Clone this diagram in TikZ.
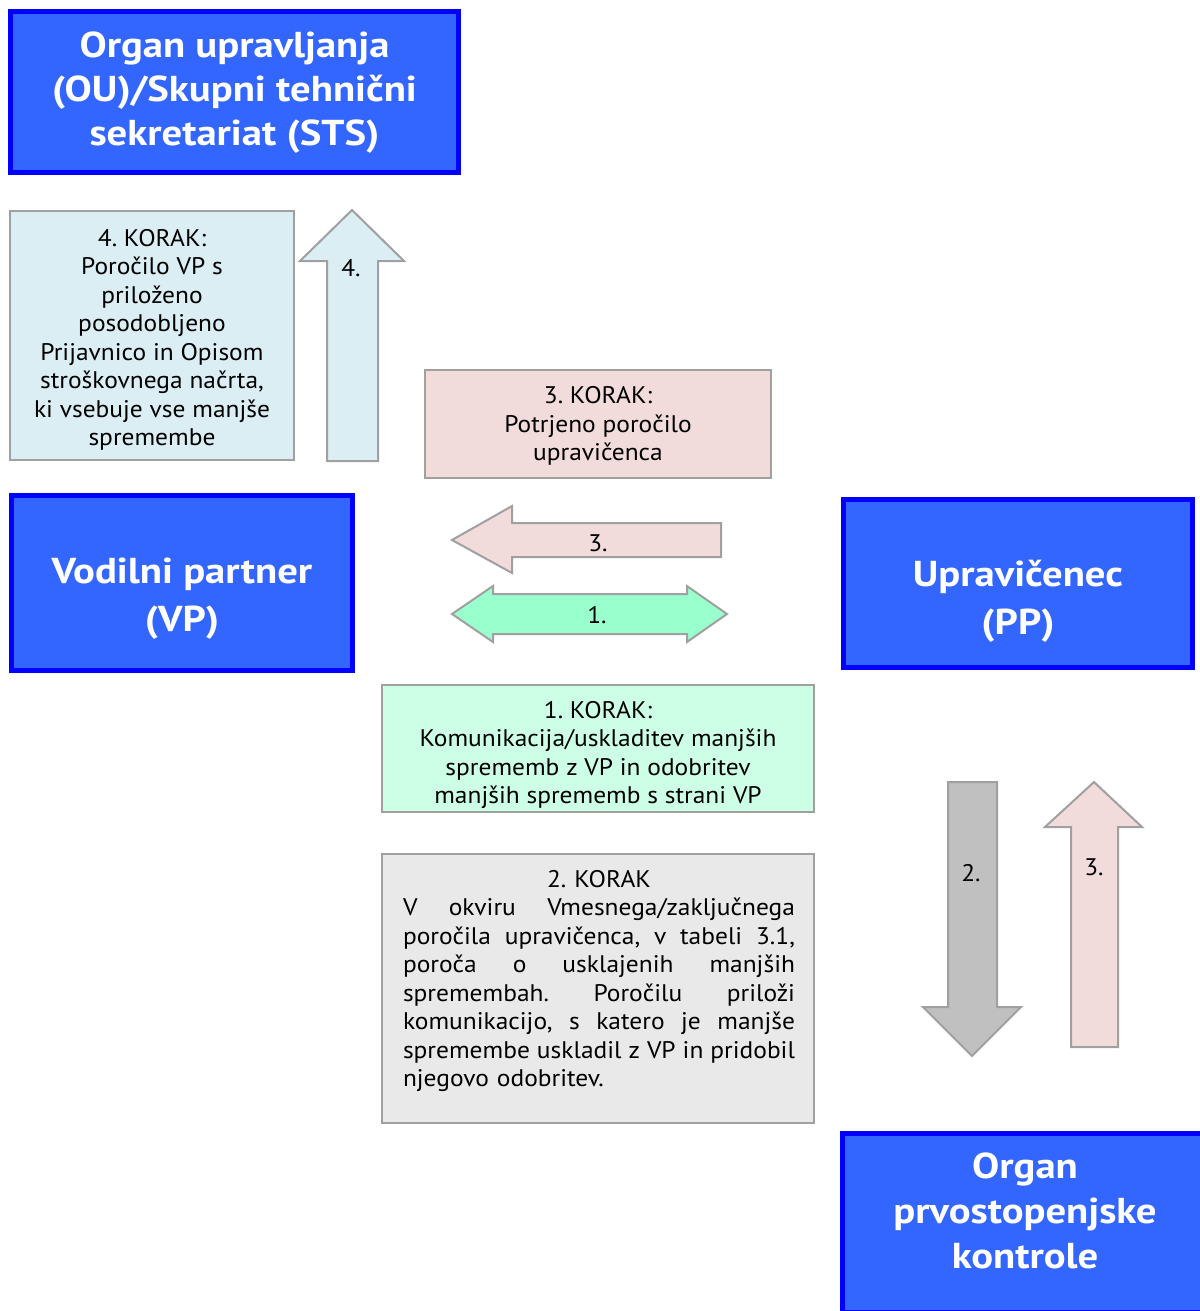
\documentclass[tikz,border=0pt]{standalone}
\usepackage{fontspec}
\setmainfont{PT Sans}[FakeStretch=1.06]
\newfontfamily\titlefont{PT Sans}[FakeStretch=1.13]
\usetikzlibrary{positioning}

\definecolor{boxblue}{RGB}{51,102,255}
\definecolor{edgeblue}{RGB}{0,0,255}
\definecolor{edgegray}{RGB}{160,160,160}
\definecolor{stepblue}{RGB}{219,238,244}
\definecolor{steprose}{RGB}{242,220,219}
\definecolor{stepmint}{RGB}{204,255,230}
\definecolor{arrowmint}{RGB}{153,255,204}
\definecolor{stepgray}{RGB}{233,233,233}
\definecolor{arrowgray}{RGB}{192,192,192}

\newcommand{\fullline}[1]{\noindent\hbox to 392pt{\spaceskip=0.25em plus 1fil\relax #1}\par}

\tikzset{
  party/.style={draw=edgeblue, line width=5pt, fill=boxblue, inner sep=0pt},
  partytext/.style={text=white, align=center, inner sep=0pt,
    font=\titlefont\bfseries\fontsize{36}{46}\selectfont},
  stepbox/.style={draw=edgegray, line width=2pt, align=center, inner sep=0pt,
    font=\frenchspacing\fontsize{24}{28.5}\selectfont},
  blockarrow/.style={draw=edgegray, line width=2pt, line join=miter},
  steplabel/.style={font=\frenchspacing\fontsize{24}{28.5}\selectfont, inner sep=0pt}
}

\begin{document}
\begin{tikzpicture}[x=1pt,y=-1pt]
  \useasboundingbox (0,0) rectangle (1199,1311);

  % partners
  \node[party, minimum width=448pt, minimum height=161pt] (ou) at (234.5,92) {};
  \node[partytext, font=\titlefont\bfseries\fontsize{36}{44}\selectfont] (outext) at (234.5,93)
    {Organ upravljanja\\(OU)/Skupni tehnični\\sekretariat (STS)};
  \node[party, minimum width=341pt, minimum height=175pt] (vp) at (182,583) {};
  \node[partytext, font=\titlefont\bfseries\fontsize{36}{48}\selectfont] (vptext) at (182,599)
    {Vodilni partner\\(VP)};
  \node[party, minimum width=349pt, minimum height=168pt] (pp) at (1018,583.5) {};
  \node[partytext, font=\titlefont\bfseries\fontsize{36}{48}\selectfont] (pptext) at (1018,601)
    {Upravičenec\\(PP)};
  \node[party, minimum width=360pt, minimum height=179pt] (opk) at (1022.5,1223) {};
  \node[partytext, font=\titlefont\bfseries\fontsize{36}{45}\selectfont] (opktext) at (1025,1211)
    {Organ\\prvostopenjske\\kontrole};

  % steps
  \node[stepbox, fill=stepblue, minimum width=284pt, minimum height=249pt] (k4) at (152,335.5) {};
  \node[steplabel, align=center] (k4text) at (152,340)
    {4. KORAK:\\Poročilo VP s\\priloženo\\posodobljeno\\Prijavnico in Opisom\\stroškovnega načrta,\\ki vsebuje vse manjše\\spremembe};
  \node[stepbox, fill=steprose, minimum width=346pt, minimum height=108pt] (k3) at (598,424) {};
  \node[steplabel, align=center] (k3text) at (598,426)
    {3. KORAK:\\Potrjeno poročilo\\upravičenca};
  \node[stepbox, fill=stepmint, minimum width=432pt, minimum height=127pt] (k1) at (598,748.5) {};
  \node[steplabel, align=center] (k1text) at (598,755)
    {1. KORAK:\\Komunikacija/uskladitev manjših\\sprememb z VP in odobritev\\manjših sprememb s strani VP};
  \node[stepbox, fill=stepgray, minimum width=432pt, minimum height=269pt] (k2) at (598,988.5) {};
  \node[steplabel, anchor=north, text width=392pt, align=left] (k2text) at (599,870)
    {\centering 2. KORAK\par
     \fullline{V okviru Vmesnega/zaključnega}
     \fullline{poročila upravičenca, v tabeli 3.1,}
     \fullline{poroča o usklajenih manjših}
     \fullline{spremembah. Poročilu priloži}
     \fullline{komunikacijo, s katero je manjše}
     \fullline{spremembe uskladil z VP in pridobil}
     \noindent njegovo odobritev.};

  % block arrows
  \draw[blockarrow, fill=stepblue] (327,461) -- (327,261) -- (300,261) -- (352,210)
    -- (404,261) -- (378,261) -- (378,461) -- cycle;
  \node[steplabel] (a4) at (351,268) {4.};
  \draw[blockarrow, fill=steprose] (721,523) -- (512,523) -- (512,506) -- (452,540)
    -- (512,573) -- (512,557) -- (721,557) -- cycle;
  \node[steplabel] (a3) at (598,543) {3.};
  \draw[blockarrow, fill=arrowmint] (452,614) -- (493,586) -- (493,594) -- (687,594)
    -- (687,586) -- (727,614) -- (687,642) -- (687,634) -- (493,634) -- (493,642) -- cycle;
  \node[steplabel] (a1) at (597,615) {1.};
  \draw[blockarrow, fill=arrowgray] (948,782) -- (997,782) -- (997,1007) -- (1021,1007)
    -- (972,1056) -- (923,1007) -- (948,1007) -- cycle;
  \node[steplabel] (a2) at (971,873) {2.};
  \draw[blockarrow, fill=steprose] (1071,1047) -- (1071,827) -- (1045,827) -- (1094,782)
    -- (1142,827) -- (1118,827) -- (1118,1047) -- cycle;
  \node[steplabel] (a3b) at (1094,867) {3.};
\end{tikzpicture}
\end{document}
